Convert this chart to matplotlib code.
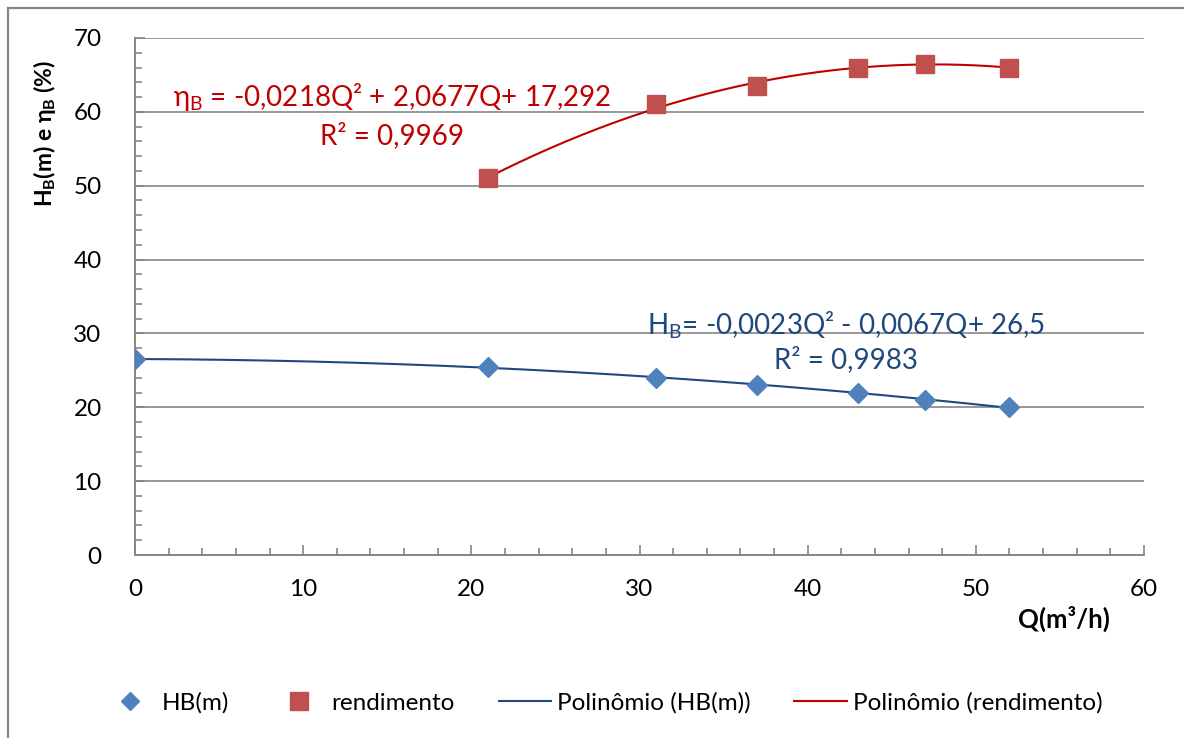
import numpy as np
import matplotlib
matplotlib.use('Agg')
from matplotlib import pyplot as plt
from matplotlib.lines import Line2D
from matplotlib.ticker import MultipleLocator

plt.rcParams['font.family'] = ['Lato', 'DejaVu Sans']
plt.rcParams['mathtext.fontset'] = 'custom'
plt.rcParams['mathtext.rm'] = 'Lato'
plt.rcParams['mathtext.bf'] = 'Lato:bold'
plt.rcParams['mathtext.fallback'] = 'stixsans'

# --- Data ---
q_hb = np.array([0, 21, 31, 37, 43, 47, 52])
hb = np.array([26.5, 25.5, 24, 23, 22, 21, 20])
q_eta = np.array([21, 31, 37, 43, 47, 52])
eta = np.array([51, 61, 63.5, 66, 66.5, 66])

eq_eta = r'η$_\mathrm{B}$ = -0,0218Q² + 2,0677Q+ 17,292'
r2_eta = 'R² = 0,9969'
eq_hb = r'H$_\mathrm{B}$= -0,0023Q² - 0,0067Q+ 26,5'
r2_hb = 'R² = 0,9983'

blue = '#4F81BD'
blue_dark = '#1F497D'
red = '#C0504D'
red_dark = '#C00000'
grey = '#868686'

fig = plt.figure(figsize=(11.84, 7.38), dpi=100)
ax = fig.add_axes([135 / 1184, 1 - 555 / 738, (1144 - 135) / 1184, (555 - 38) / 738])

# outer chart border (top and left only visible)
fig.add_artist(Line2D([8 / 1184, 1], [1 - 8 / 738, 1 - 8 / 738], color=grey, lw=1.6))
fig.add_artist(Line2D([8 / 1184, 8 / 1184], [0, 1 - 8 / 738], color=grey, lw=1.6))

# --- Trend curves (2nd order polynomial fit) ---
c_hb = np.polyfit(q_hb, hb, 2)
xs = np.linspace(q_hb.min(), q_hb.max(), 200)
ax.plot(xs, np.polyval(c_hb, xs), color=blue_dark, lw=1.5, zorder=3)

c_eta = np.polyfit(q_eta, eta, 2)
xs2 = np.linspace(q_eta.min(), q_eta.max(), 200)
ax.plot(xs2, np.polyval(c_eta, xs2), color=red_dark, lw=1.5, zorder=3)

ax.plot(q_hb, hb, 'D', color=blue, ms=10, mec=blue, zorder=4)
ax.plot(q_eta, eta, 's', color=red, ms=13.5, mec=red, zorder=4)

# --- Axes styling ---
ax.set_xlim(0, 60)
ax.set_ylim(0, 70)
ax.xaxis.set_major_locator(MultipleLocator(10))
ax.xaxis.set_minor_locator(MultipleLocator(2))
ax.yaxis.set_major_locator(MultipleLocator(10))
ax.yaxis.set_minor_locator(MultipleLocator(2))
ax.grid(axis='y', which='major', color=grey, lw=1.2)
ax.set_axisbelow(True)
for s in ['top', 'right']:
    ax.spines[s].set_visible(False)
for s in ['left', 'bottom']:
    ax.spines[s].set_color(grey)
    ax.spines[s].set_linewidth(1.4)
ax.tick_params(which='both', direction='in', color=grey, width=1.2, labelsize=17.5, labelcolor='black')
ax.tick_params(which='major', length=7)
ax.tick_params(which='minor', length=5)
ax.tick_params(axis='x', which='major', pad=17)
ax.tick_params(axis='y', which='major', pad=24)

# --- Equations ---
ax.text(15.3, 62.0, eq_eta, color=red_dark, fontsize=20, ha='center', va='center')
ax.text(15.3, 56.8, r2_eta, color=red_dark, fontsize=20, ha='center', va='center')
ax.text(42.3, 31.1, eq_hb, color=blue_dark, fontsize=20, ha='center', va='center')
ax.text(42.3, 26.4, r2_hb, color=blue_dark, fontsize=20, ha='center', va='center')

# --- Axis titles ---
fig.text(45 / 1184, 1 - 133 / 738, r'$\mathbf{H_B}$(m) e η$_\mathbf{B}$ (%)', rotation=90,
         ha='center', va='center', fontsize=16.5, fontweight='bold')
fig.text(1064 / 1184, 1 - 619 / 738, 'Q(m³/h)', ha='center', va='center',
         fontsize=18.5, fontweight='bold')

# --- Legend ---
handles = [
    Line2D([], [], ls='none', marker='D', color=blue, ms=9.5),
    Line2D([], [], ls='none', marker='s', color=red, ms=13),
    Line2D([], [], color=blue_dark, lw=1.5),
    Line2D([], [], color=red_dark, lw=1.5),
]
labels = ['HB(m)', 'rendimento', 'Polinômio (HB(m))', 'Polinômio (rendimento)']
fig.legend(handles, labels, loc='center', bbox_to_anchor=(603 / 1184, 1 - 703 / 738),
           ncol=4, frameon=False, fontsize=17.5, handlelength=2.15, columnspacing=1.8,
           handletextpad=0.25)

fig.savefig('out.png', dpi=100)
